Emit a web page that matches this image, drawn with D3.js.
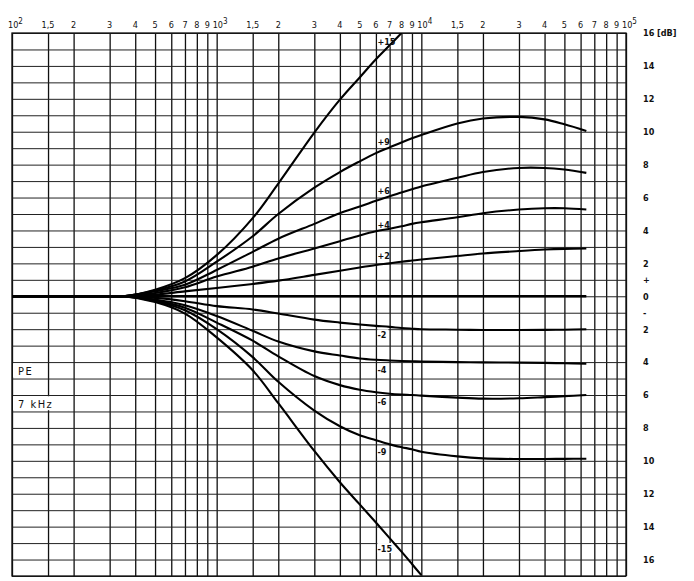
<!DOCTYPE html>
<html>
<head>
<meta charset="utf-8">
<script src="https://cdn.jsdelivr.net/npm/d3@7"></script>
<style>
body { margin: 0; background: #fff; }
text { font-family: "DejaVu Sans Condensed", "Liberation Sans Narrow", sans-serif; fill: #111; }
</style>
</head>
<body>
<div id="chart"></div>
<script>
// Frequences (Hz) communes a toutes les courbes
var freqs = [100, 300, 350, 500, 700, 1000, 1500, 2000, 3000, 4000, 5000, 6000, 7000, 8000, 9000, 10000, 15000, 20000, 30000, 40000, 50000, 64000];

// Gain en dB (null = hors du cadre)
var curveP15 = [0, 0, 0, 0.4, 1.1, 2.5, 4.75, 6.85, 9.95, 11.95, 13.3, 14.4, 15.25, 16.0, null, null, null, null, null, null, null, null];
var curveP9  = [0, 0, 0, 0.35, 0.9, 2.1, 3.65, 5.0, 6.6, 7.55, 8.2, 8.7, 9.05, 9.35, 9.6, 9.8, 10.5, 10.8, 10.9, 10.75, 10.45, 10.05];
var curveP6  = [0, 0, 0, 0.3, 0.7, 1.6, 2.7, 3.5, 4.4, 5.05, 5.45, 5.8, 6.08, 6.3, 6.5, 6.67, 7.2, 7.55, 7.8, 7.8, 7.7, 7.5];
var curveP4  = [0, 0, 0, 0.2, 0.55, 1.2, 1.8, 2.3, 2.9, 3.35, 3.7, 3.95, 4.1, 4.25, 4.4, 4.5, 4.8, 5.05, 5.27, 5.35, 5.35, 5.27];
var curveP2  = [0, 0, 0, 0.1, 0.3, 0.5, 0.75, 0.95, 1.3, 1.55, 1.75, 1.9, 2.0, 2.1, 2.17, 2.23, 2.45, 2.6, 2.75, 2.84, 2.88, 2.9];
var curve0   = [0, 0, 0, 0, 0, 0, 0, 0, 0, 0, 0, 0, 0, 0, 0, 0, 0, 0, 0, 0, 0, 0];
var curveM2  = [0, 0, 0, -0.1, -0.3, -0.6, -0.8, -1.05, -1.42, -1.6, -1.72, -1.8, -1.86, -1.93, -1.97, -2.0, -2.03, -2.05, -2.05, -2.04, -2.03, -2.0];
var curveM4  = [0, 0, 0, -0.2, -0.55, -1.2, -2.1, -2.75, -3.35, -3.6, -3.78, -3.86, -3.9, -3.93, -3.95, -3.97, -4.0, -4.02, -4.03, -4.05, -4.07, -4.1];
var curveM6  = [0, 0, 0, -0.25, -0.7, -1.6, -2.7, -3.65, -4.85, -5.4, -5.68, -5.83, -5.92, -5.97, -6.0, -6.04, -6.16, -6.22, -6.2, -6.13, -6.07, -6.0];
var curveM9  = [0, 0, 0, -0.3, -0.85, -2.0, -3.7, -5.2, -6.95, -7.9, -8.45, -8.75, -9.0, -9.17, -9.3, -9.45, -9.73, -9.85, -9.89, -9.89, -9.88, -9.87];
var curveM15 = [0, 0, 0, -0.35, -1.05, -2.5, -4.5, -6.5, -9.4, -11.3, -12.65, -13.75, -14.7, -15.52, -16.27, -16.95, null, null, null, null, null, null];

var curves = [curveP15, curveP9, curveP6, curveP4, curveP2, curve0, curveM2, curveM4, curveM6, curveM9, curveM15];

// etiquettes des courbes
var curveNames = ["+15", "+9", "+6", "+4", "+2", "-2", "-4", "-6", "-9", "-15"];
var curveNameDb = [15.5, 9.42, 6.44, 4.38, 2.49, -2.31, -4.44, -6.38, -9.45, -15.3];
var curveNameFreq = 6100;

// grille et graduations
var gridMultipliers = [1, 1.5, 2, 3, 4, 5, 6, 7, 8, 9];
var topTickLabels = ["", "1,5", "2", "3", "4", "5", "6", "7", "8", "9"];
var decades = [100, 1000, 10000];
var decadeExp = ["2", "3", "4", "5"];
var rightTickDb = [16, 14, 12, 10, 8, 6, 4, 2, 1, 0, -1, -2, -4, -6, -8, -10, -12, -14, -16];
var rightTickLabels = ["16", "14", "12", "10", "8", "6", "4", "2", "+", "0", "-", "2", "4", "6", "8", "10", "12", "14", "16"];

var boxLabels = ["PE", "7 kHz"];
var boxLabelDb = [-4.5, -6.5];

const width = 694, height = 581;
const plot = { left: 12, right: 626, top: 33, bottom: 576 };

var svg = d3.select("#chart")
            .append("svg")
            .attr("width", width)
            .attr("height", height);

var x = d3.scaleLog().domain([100, 100000]).range([plot.left, plot.right]);
var y = d3.scaleLinear().domain([-17, 16]).range([plot.bottom, plot.top]);

// lignes verticales (frequences)
var gridFreqs = [];
decades.forEach(function(d) {
  gridMultipliers.forEach(function(m) { gridFreqs.push(d * m); });
});
gridFreqs.push(100000);

svg.append("g")
  .attr("transform", "translate(0," + plot.top + ")")
  .call(d3.axisTop(x).tickValues(gridFreqs).tickSize(-(plot.bottom - plot.top)).tickFormat(""))
  .call(function(g) { g.select(".domain").remove(); })
  .selectAll("line")
  .attr("stroke", "#111")
  .attr("stroke-width", 1.3);

// lignes horizontales (1 dB)
svg.append("g")
  .attr("transform", "translate(" + plot.left + ",0)")
  .call(d3.axisLeft(y).tickValues(d3.range(-17, 17)).tickSize(-(plot.right - plot.left)).tickFormat(""))
  .call(function(g) { g.select(".domain").remove(); })
  .selectAll("line")
  .attr("stroke", "#222")
  .attr("stroke-width", 1);

// cadre
svg.append("rect")
  .attr("x", plot.left).attr("y", plot.top)
  .attr("width", plot.right - plot.left).attr("height", plot.bottom - plot.top)
  .attr("fill", "none").attr("stroke", "#111").attr("stroke-width", 1.3);

// graduations du haut
var topLabels = [];
decades.forEach(function(d) {
  gridMultipliers.forEach(function(m, i) {
    if (i > 0) topLabels.push({ f: d * m, t: topTickLabels[i] });
  });
});

svg.append("g").selectAll("text")
  .data(topLabels)
  .join("text")
  .attr("x", function(d) { return x(d.f); })
  .attr("y", 28)
  .attr("text-anchor", "middle")
  .style("font-size", "9px")
  .text(function(d) { return d.t; });

var decadeLabels = svg.append("g").selectAll("text")
  .data(decades.concat([100000]))
  .join("text")
  .attr("x", function(d) { return x(d) - 4; })
  .attr("y", 28)
  .attr("text-anchor", "start")
  .style("font-size", "9px")
  .text("10");
decadeLabels.append("tspan")
  .attr("dy", -4)
  .style("font-size", "8px")
  .text(function(d, i) { return decadeExp[i]; });

// graduations de droite
var right = svg.append("g")
  .attr("transform", "translate(" + 643 + ",0)")
  .call(d3.axisRight(y).tickValues(rightTickDb).tickSize(0).tickPadding(0)
    .tickFormat(function(d, i) { return rightTickLabels[i]; }));
right.select(".domain").remove();
right.selectAll("text")
  .style("font-size", "9px")
  .style("font-weight", "bold")
  .style("font-family", "'DejaVu Sans Condensed', sans-serif")
  .attr("fill", "#111");

svg.append("text")
  .attr("x", 657).attr("y", y(16) + 3)
  .style("font-size", "9px")
  .style("font-weight", "bold")
  .text("[dB]");

// fonds blancs des etiquettes (sous les courbes)
svg.append("g").selectAll("rect")
  .data(curveNames)
  .join("rect")
  .attr("x", x(curveNameFreq))
  .attr("y", function(d, i) { return y(curveNameDb[i]) - 5; })
  .attr("width", function(d) { return d.length * 5 + 1; })
  .attr("height", 10)
  .attr("fill", "#fff");

// courbes
svg.append("clipPath").attr("id", "clip")
  .append("rect")
  .attr("x", plot.left).attr("y", plot.top)
  .attr("width", plot.right - plot.left).attr("height", plot.bottom - plot.top);

var line = d3.line()
  .defined(function(d) { return d != null; })
  .x(function(d, i) { return x(freqs[i]); })
  .y(function(d) { return y(d); })
  .curve(d3.curveCatmullRom.alpha(0.5));

svg.append("g")
  .attr("clip-path", "url(#clip)")
  .selectAll("path")
  .data(curves)
  .join("path")
  .attr("d", line)
  .attr("fill", "none")
  .attr("stroke", "#000")
  .attr("stroke-width", function(d, i) { return i == 5 ? 2.6 : 2.1; })
  .attr("stroke-linejoin", "round");

// etiquettes des courbes
svg.append("g").selectAll("text")
  .data(curveNames)
  .join("text")
  .attr("x", x(curveNameFreq))
  .attr("y", function(d, i) { return y(curveNameDb[i]) + 3.5; })
  .style("font-size", "9px")
  .style("font-weight", "bold")
  .text(function(d) { return d; });

// encadres PE / 7 kHz
var boxes = svg.append("g").selectAll("g")
  .data(boxLabels)
  .join("g")
  .attr("transform", function(d, i) { return "translate(" + (plot.left + 1) + "," + y(boxLabelDb[i]) + ")"; });
boxes.append("rect")
  .attr("x", 0).attr("y", -7)
  .attr("width", function(d) { return d.length * 8 + 3; })
  .attr("height", 14)
  .attr("fill", "#fff");
boxes.append("text")
  .attr("x", 5).attr("y", 4.5)
  .style("font-size", "11px")
  .style("letter-spacing", "1.5px")
  .text(function(d) { return d; });
</script>
</body>
</html>
